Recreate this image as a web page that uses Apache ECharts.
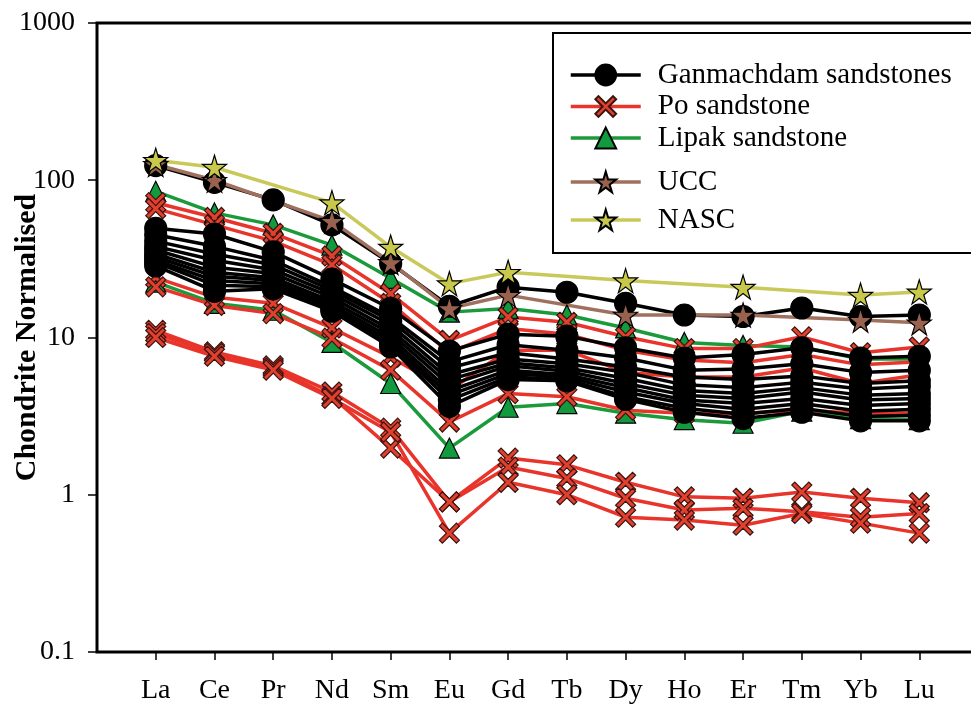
<!DOCTYPE html>
<html lang="en">
<head>
<meta charset="UTF-8">
<title>Chondrite normalised REE</title>
<script src="https://cdn.jsdelivr.net/npm/echarts@6/dist/echarts.min.js"></script>
<style>
  * { margin: 0; padding: 0; }
  #main { width: 971px; height: 705px; background: #fff; }
</style>
</head>
<body>
<div id="main"></div>
<script>
  // categories along the x axis
  let elements = ['La', 'Ce', 'Pr', 'Nd', 'Sm', 'Eu', 'Gd', 'Tb', 'Dy', 'Ho', 'Er', 'Tm', 'Yb', 'Lu'];

  // chondrite normalised values, one row per sample
  let ganmachdam = [
    [124, 97, 75, 52, 29.6, 15.8, 20.9, 19.4, 16.5, 13.9, 13.6, 15.4, 13.6, 13.9],
    [49.5, 45.5, 35, 23.5, 15.3, 8.2, 10.5, 10.2, 8.6, 7.4, 7.8, 8.6, 7.4, 7.6],
    [45, 38, 31, 21, 13.5, 7.0, 9.0, 8.3, 7.4, 6.2, 6.3, 6.8, 6.0, 6.2],
    [41, 34, 29, 20, 12.8, 6.4, 8.0, 7.3, 6.5, 5.6, 5.4, 5.7, 5.1, 5.3],
    [38, 31, 27, 19, 12, 5.8, 7.3, 6.8, 6.0, 5.0, 4.8, 5.2, 4.7, 4.9],
    [36, 28, 25.5, 18, 11.2, 5.4, 6.9, 6.4, 5.5, 4.6, 4.4, 4.8, 4.3, 4.4],
    [34, 26, 24, 17, 10.6, 5.0, 6.6, 6.1, 5.1, 4.3, 4.1, 4.5, 4.0, 4.1],
    [32.5, 24.5, 23, 16.2, 10, 4.6, 6.2, 5.8, 4.8, 4.0, 3.8, 4.1, 3.7, 3.8],
    [31, 23, 22, 15.5, 9.5, 4.3, 5.9, 5.6, 4.5, 3.8, 3.5, 3.8, 3.4, 3.5],
    [30, 21.5, 21, 15, 9.1, 4.0, 5.6, 5.4, 4.2, 3.55, 3.25, 3.55, 3.15, 3.2],
    [28.5, 19.7, 20.4, 14.7, 8.7, 3.65, 5.4, 5.3, 4.05, 3.35, 3.05, 3.35, 2.95, 2.95]
  ];
  let po = [
    [72, 58, 46, 33, 19, 9.6, 13.5, 12.5, 10.1, 8.5, 8.5, 10.1, 8.0, 8.7],
    [66, 52, 41, 29, 16.5, 8.0, 11.4, 10.5, 8.3, 7.2, 6.9, 7.8, 6.7, 7.0],
    [24, 18, 16.5, 11.5, 7.5, 4.6, 8.3, 8.3, 6.0, 5.6, 5.6, 6.4, 5.1, 5.8],
    [21, 16, 14.2, 9.9, 6.2, 2.9, 4.4, 4.2, 3.45, 3.3, 3.3, 3.45, 3.3, 3.3],
    [11.1, 8.1, 6.6, 4.5, 2.65, 0.9, 1.71, 1.55, 1.2, 0.97, 0.95, 1.04, 0.95, 0.89],
    [10.6, 7.9, 6.4, 4.2, 1.98, 0.9, 1.5, 1.27, 0.95, 0.8, 0.82, 0.78, 0.72, 0.76],
    [10.0, 7.6, 6.2, 4.1, 2.5, 0.57, 1.2, 1.0, 0.72, 0.69, 0.64, 0.76, 0.66, 0.57]
  ];
  let lipak = [
    [85, 62, 52, 38.7, 23.8, 14.5, 15.3, 13.9, 11.5, 9.3, 8.9, 8.7, 7.3, 7.3],
    [22.5, 16.5, 14.9, 9.3, 5.1, 1.98, 3.6, 3.8, 3.3, 3.0, 2.85, 3.4, 3.05, 3.0]
  ];
  // reference compositions, null where not plotted
  let ucc = [126, 100, null, 55, 30, 15.3, 18.6, null, 13.9, null, 13.9, null, 12.9, 12.4];
  let nasc = [134, 121, null, 72, 37.6, 22, 26, null, 23, null, 20.9, null, 18.6, 19.5];

  let serif = 'Liberation Serif';
  let crossPath = 'path://M3,0 L10,7 L17,0 L20,3 L13,10 L20,17 L17,20 L10,13 L3,20 L0,17 L7,10 L0,3 Z';
  let starPath = 'path://M50,0 L61,35 L98,35 L68,57 L79,91 L50,70 L21,91 L32,57 L2,35 L39,35 Z';

  let styles = {
    'Ganmachdam sandstones': { symbol: 'circle', size: 22, fill: '#000', border: '#000', line: '#000' },
    'Po sandstone': { symbol: crossPath, size: 20, fill: '#e2402f', border: '#3a1410', line: '#e8342a' },
    'Lipak sandstone': { symbol: 'triangle', size: 20, fill: '#129a3e', border: '#000', line: '#1b9a3c' },
    'UCC': { symbol: starPath, size: 24, fill: '#98624e', border: '#000', line: '#a0705e' },
    'NASC': { symbol: starPath, size: 24, fill: '#c8c84a', border: '#000', line: '#c9c95a' }
  };

  function makeSeries(name, rows) {
    let s = styles[name];
    return rows.map(function (row) {
      return {
        name: name,
        type: 'line',
        symbol: s.symbol,
        symbolSize: s.size,
        showAllSymbol: true,
        itemStyle: { color: s.fill, borderColor: s.border, borderWidth: 1.2, opacity: 1 },
        lineStyle: { color: s.line, width: 3.5 },
        emphasis: { disabled: true },
        data: row.map(function (v, i) { return [i, v]; }).filter(function (p) { return p[1] != null; })
      };
    });
  }

  let series = [].concat(
    makeSeries('Lipak sandstone', lipak),
    makeSeries('Po sandstone', po),
    makeSeries('Ganmachdam sandstones', ganmachdam),
    makeSeries('UCC', [ucc]),
    makeSeries('NASC', [nasc])
  );

  let legendText = { fontFamily: serif, fontSize: 29, color: '#000', lineHeight: 30, padding: [0, 0, 0, 12] };

  let myChart = echarts.init(document.getElementById('main'));
  myChart.setOption({
    animation: false,
    backgroundColor: '#fff',
    grid: {
      left: 97, top: 23, right: -7, bottom: 53,
      outerBoundsMode: 'none', containLabel: false,
      show: true, borderColor: '#000', borderWidth: 3, backgroundColor: 'transparent'
    },
    xAxis: {
      type: 'value', min: -1, max: 14, interval: 1,
      splitLine: { show: false },
      axisLine: { show: false, onZero: false },
      axisTick: {
        show: true, length: 8, lineStyle: { color: '#000', width: 1.5 },
        customValues: elements.map(function (e, i) { return i; })
      },
      axisLabel: {
        formatter: function (v) { return elements[v] || ''; },
        fontFamily: serif, fontSize: 28, color: '#000', margin: 25
      }
    },
    yAxis: {
      type: 'log', logBase: 10, min: 0.1, max: 1000,
      name: 'Chondrite Normalised', nameLocation: 'middle', nameGap: 55, nameMoveOverlap: false,
      nameTextStyle: { fontFamily: serif, fontWeight: 'bold', fontSize: 30, color: '#000' },
      splitLine: { show: false },
      axisLine: { show: false, onZero: false },
      axisTick: { show: true, length: 9, lineStyle: { color: '#000', width: 1.5 } },
      axisLabel: {
        formatter: function (v) { return String(+(+v).toPrecision(3)); },
        fontFamily: serif, fontSize: 28, color: '#000', margin: 22
      }
    },
    legend: [
      {
        data: ['Ganmachdam sandstones', 'Po sandstone', 'Lipak sandstone'],
        orient: 'vertical', left: 569, top: 60, padding: 0,
        itemWidth: 70, itemHeight: 26, itemGap: 1.5,
        lineStyle: { width: 3.5 },
        textStyle: legendText, selectedMode: false, z: 10
      },
      {
        data: ['UCC', 'NASC'],
        orient: 'vertical', left: 569, top: 167, padding: 0,
        itemWidth: 70, itemHeight: 26, itemGap: 8,
        lineStyle: { width: 3.5 },
        textStyle: legendText, selectedMode: false, z: 10
      }
    ],
    graphic: [{
      type: 'rect', z: 5, silent: true,
      shape: { x: 553, y: 33, width: 480, height: 220 },
      style: { fill: '#fff', stroke: '#000', lineWidth: 2 }
    }],
    series: series
  });
</script>
</body>
</html>
